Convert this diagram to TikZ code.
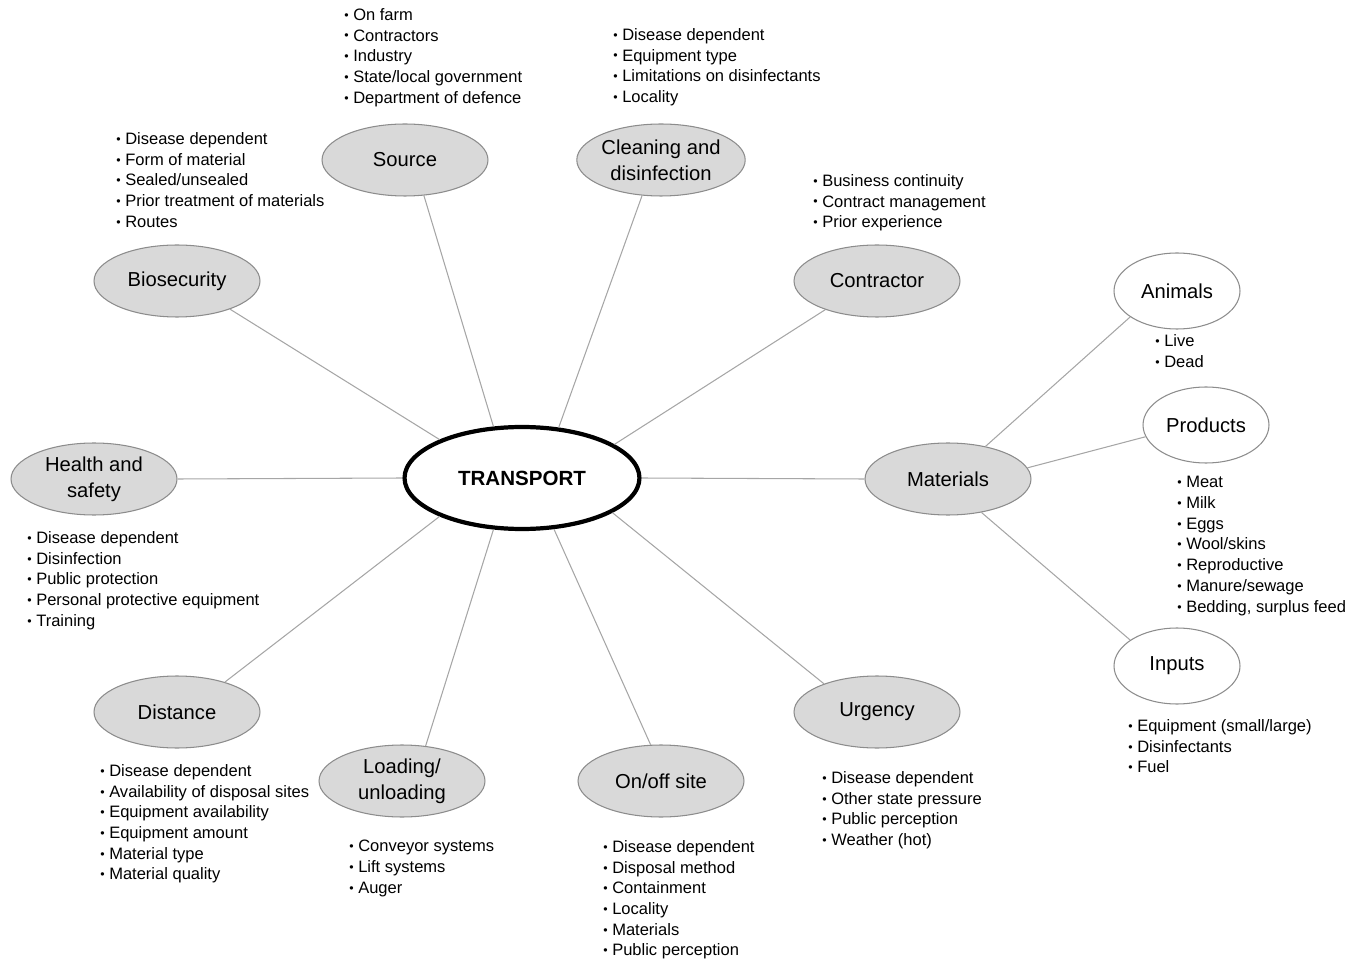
\documentclass[tikz,border=0pt]{standalone}
\usepackage{fontspec}
\setmainfont{Liberation Sans}
\usetikzlibrary{shapes.geometric}
\definecolor{nodefill}{HTML}{D9D9D9}
\definecolor{nodeline}{HTML}{8C8C8C}
\definecolor{conn}{HTML}{A6A6A6}
\tikzset{
  topic/.style={ellipse, draw=nodeline, fill=nodefill, line width=0.6pt, minimum width=3.32cm, minimum height=1.44cm, inner sep=0pt, align=center, font=\fontsize{11.5}{14.8}\selectfont},
  sub/.style={ellipse, draw=nodeline, fill=white, line width=0.6pt, minimum width=2.52cm, minimum height=1.52cm, inner sep=0pt, align=center, font=\fontsize{11.5}{14.8}\selectfont},
  hub/.style={ellipse, draw=black, fill=white, line width=2.4pt, minimum width=4.7cm, minimum height=2.04cm, inner sep=0pt, font=\bfseries\fontsize{11.7}{14}\selectfont},
  items/.style={anchor=north west, inner sep=0pt, align=left, font=\fontsize{9.4}{11.8}\selectfont},
  link/.style={draw=conn, line width=0.6pt}
}
\newcommand{\bu}{\raisebox{0.12ex}{\scalebox{0.75}{•}}\ }
\begin{document}
\begin{tikzpicture}[x=0.02cm, y=-0.02cm]
\useasboundingbox (0,0) rectangle (1352,962);

\node[hub] (T) at (522,478) {TRANSPORT};

\node[topic] (src) at (405,160) {Source};
\node[topic] (cln) at (661,160) {Cleaning and\\disinfection};
\node[topic] (bio) at (177,281) {Biosecurity};
\node[topic] (con) at (877,281) {Contractor};
\node[topic] (hs) at (94,479) {Health and\\safety};
\node[topic] (mat) at (948,479) {Materials};
\node[topic] (dst) at (177,712) {Distance};
\node[topic] (urg) at (877,712) {Urgency};
\node[topic] (lod) at (402,781) {Loading/\\unloading};
\node[topic] (onf) at (661,781) {On/off site};

\node[sub] (ani) at (1177,291) {Animals};
\node[sub] (prd) at (1206,425) {Products};
\node[sub] (inp) at (1177,666) {Inputs};

\draw[link] (T.119.6) -- (src.298.8);
\draw[link] (T.54.8) -- (cln.242.3);
\draw[link] (T.155.8) -- (bio.332.7);
\draw[link] (T.20.8) -- (con.209.3);
\draw[link] (T.180) -- (hs.0);
\draw[link] (T.0) -- (mat.180);
\draw[link] (T.205.8) -- (dst.32.1);
\draw[link] (T.241.8) -- (lod.56.7);
\draw[link] (T.302.7) -- (onf.106);
\draw[link] (T.339.4) -- (urg.152.2);

\draw[link] (mat.41.8) -- (ani.209.9);
\draw[link] (mat.8.3) -- (prd.191.7);
\draw[link] (mat.315.8) -- (inp.151);

\node[items] (lsrc) at (344,8) {\bu On farm\\\bu Contractors\\\bu Industry\\\bu State/local government\\\bu Department of defence};
\node[items] (lcln) at (613,28) {\bu Disease dependent\\\bu Equipment type\\\bu Limitations on disinfectants\\\bu Locality};
\node[items] (lbio) at (116,132) {\bu Disease dependent\\\bu Form of material\\\bu Sealed/unsealed\\\bu Prior treatment of materials\\\bu Routes};
\node[items] (lcon) at (813,174) {\bu Business continuity\\\bu Contract management\\\bu Prior experience};
\node[items] (lani) at (1155,334) {\bu Live\\\bu Dead};
\node[items] (lprd) at (1177,476) {\bu Meat\\\bu Milk\\\bu Eggs\\\bu Wool/skins\\\bu Reproductive\\\bu Manure/sewage\\\bu Bedding, surplus feed};
\node[items] (lhs) at (27,531) {\bu Disease dependent\\\bu Disinfection\\\bu Public protection\\\bu Personal protective equipment\\\bu Training};
\node[items] (linp) at (1128,719) {\bu Equipment (small/large)\\\bu Disinfectants\\\bu Fuel};
\node[items] (ldst) at (100,764) {\bu Disease dependent\\\bu Availability of disposal sites\\\bu Equipment availability\\\bu Equipment amount\\\bu Material type\\\bu Material quality};
\node[items] (llod) at (349,840) {\bu Conveyor systems\\\bu Lift systems\\\bu Auger};
\node[items] (lonf) at (603,840) {\bu Disease dependent\\\bu Disposal method\\\bu Containment\\\bu Locality\\\bu Materials\\\bu Public perception};
\node[items] (lurg) at (822,771) {\bu Disease dependent\\\bu Other state pressure\\\bu Public perception\\\bu Weather (hot)};
\end{tikzpicture}
\end{document}
